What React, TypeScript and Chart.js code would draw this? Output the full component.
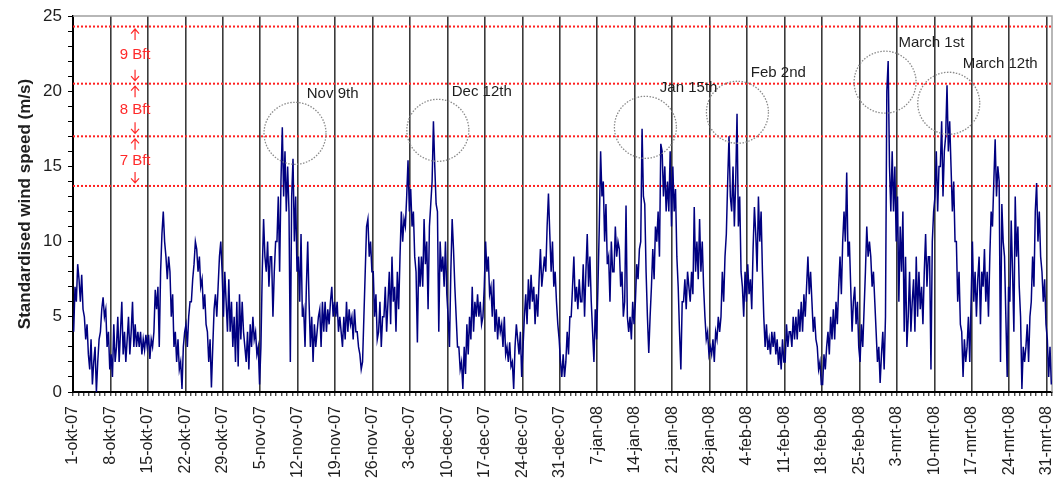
import React, { useEffect, useRef } from 'react';
import { Chart, registerables } from 'chart.js';

Chart.register(...registerables);

// Week tick labels (one every 7 days, starting 1-okt-07)
const tickLabels = [
  '1-okt-07', '8-okt-07', '15-okt-07', '22-okt-07', '29-okt-07',
  '5-nov-07', '12-nov-07', '19-nov-07', '26-nov-07',
  '3-dec-07', '10-dec-07', '17-dec-07', '24-dec-07', '31-dec-07',
  '7-jan-08', '14-jan-08', '21-jan-08', '28-jan-08',
  '4-feb-08', '11-feb-08', '18-feb-08', '25-feb-08',
  '3-mrt-08', '10-mrt-08', '17-mrt-08', '24-mrt-08', '31-mrt-08',
];

// Standardised wind speed (m/s), four readings per day (every 6 hours)
const okt = [
  4, 7, 6, 8.5, 7.5, 6, 7.8, 5.5, 5, 3.5, 4.5, 2.5, 1.5, 3.5, 0.5, 2,
  3, 0, 2, 3.5, 4, 5.5, 6.3, 5, 5.5, 3, 4, 1.5, 2.5, 1, 4.5, 2,
  3, 5, 2, 4, 6, 2.5, 4, 2, 3.5, 5, 2.5, 4, 6, 3, 4.5, 3,
  4, 3, 4, 2.5, 3.5, 2.8, 3.8, 3, 3.8, 2.2, 3.5, 3, 4, 6.8, 5.5, 7,
  3, 8, 10.5, 12, 10, 9, 7.5, 9, 8, 5, 6.5, 3, 4, 2, 3.5, 1.5,
  2, 0.2, 3, 4, 4.5, 3, 5, 6, 6, 7.5, 8.5, 10, 9.5, 8, 9, 7,
  7.5, 5.5, 6.5, 4.5, 4, 2, 3.5, 0.3, 3, 5.5, 6.5, 5, 7, 9, 10, 8,
  5, 8, 6, 4, 7.5, 4, 6, 3, 5, 2, 6, 1.7,
];
const nov = [
  6.5, 3.5, 6, 4, 3, 2, 4, 1.5, 4.5, 3, 5, 3.5, 4, 2.5, 3, 0.5,
  3, 8, 11.5, 9, 8, 10, 7, 9, 9, 5, 8, 10, 10, 13, 8, 14,
  17.6, 13, 16, 12, 15, 12, 2, 13, 15.5, 10, 13, 8, 9, 6, 10.5, 5,
  5.5, 3, 7, 10, 6, 3, 5, 2, 4.5, 3, 4, 5, 5.5, 3, 6, 4,
  6, 4, 5.5, 4.5, 6, 7, 5, 6, 5, 6, 4, 5, 4, 3, 5, 3.5,
  6, 4, 5.5, 4.5, 5, 3.5, 5.5, 4, 4, 3, 2.5, 1.5, 2, 5, 8, 11,
  11.5, 9, 10, 8, 8, 5, 6.5, 3.5, 4, 6, 3, 5, 5, 7, 4, 6,
  8, 4.5, 9, 6, 7, 4, 8, 5.5,
];
const dec = [
  9, 12, 10, 11.5, 11, 13, 15.4, 12, 13.5, 11, 12, 9, 8, 3.3, 9, 7,
  9, 7, 11.5, 8.5, 10, 5.5, 11, 12.5, 14, 18, 15, 12.5, 12, 4, 10, 8,
  9, 7, 10, 6.5, 5, 3, 8, 11.5, 9.5, 7, 5, 3, 3, 1.5, 2, 0.2,
  3, 1.2, 4.5, 2.5, 5, 3.5, 7, 4, 6, 5, 6.5, 5, 6, 4.5, 5, 7,
  10, 8, 9, 6.5, 7, 5, 7.5, 4, 5.5, 3.5, 5, 4, 4.5, 3, 5, 2.5,
  3, 2, 3.3, 1.7, 2, 0.2, 3, 4.5, 3.5, 2.5, 4, 1, 3, 5, 6.5, 4.5,
  7.5, 5.5, 7.8, 6, 7, 4.5, 6.5, 5, 7.5, 9.5, 7, 8, 9, 8, 11, 13.2,
  10.5, 8, 10, 7, 8, 6, 4.5, 3.5, 2, 1, 2.5, 1,
];
const jan = [
  2, 4, 2.5, 5, 5, 7, 9, 6, 7, 5.5, 7.5, 6, 6, 8.5, 5, 8,
  10.5, 7, 9, 6, 4, 2, 5.5, 3.5, 7, 11, 16, 13, 14, 10, 12.5, 8.5,
  9, 6, 10, 8, 8, 11, 9, 10, 9.5, 7, 8, 5, 6, 12.4, 5, 4,
  5, 3.5, 6, 4.5, 6, 8.5, 7.5, 9.5, 10, 17.5, 13, 12.5, 8, 5, 2.6, 5,
  7, 9.5, 7.5, 11, 10, 12, 9, 16.5, 16, 13, 15, 12, 14, 12, 16, 11,
  15, 12, 13.5, 9, 7, 4, 1.5, 6, 6, 7.5, 5.5, 8, 7, 6, 8, 6.5,
  12.3, 8, 10, 7.5, 11.5, 8, 10, 7, 5, 3.5, 4, 2.5, 3, 2.5, 3.5, 2,
  4, 3.5, 5, 4, 5, 8, 6, 9, 10.5, 14, 17, 13,
];
const feb = [
  12, 15, 11, 14, 18.5, 11, 13, 8, 7, 5, 8, 6, 8.5, 6.5, 7.5, 5.5,
  9.5, 12.3, 10.5, 8, 13, 10, 12, 8, 5, 3, 4.5, 2.8, 3.5, 2.5, 4, 3,
  4, 2.5, 3.5, 1.8, 3, 1.5, 3.5, 2, 2, 4.5, 3, 4, 4, 3, 5, 3.5,
  5, 3.5, 5.5, 4, 6, 4, 6.5, 5, 7, 9, 6.5, 8, 6, 4, 5, 3.5,
  3, 1.5, 2, 0.5, 0.5, 2.5, 1.5, 3, 4, 2.5, 5, 3.5, 5.5, 3.5, 6, 4.5,
  7, 9, 6.5, 10, 12, 10, 14.6, 9, 10, 7, 4, 6, 7, 4.5, 6, 3,
  2, 4.5, 3, 5.5, 8, 11, 9, 10, 9, 7, 8, 6, 4, 2, 3, 0.6,
  2.5, 4, 1.5, 5,
];
const mrt = [
  20, 22, 15, 12, 16, 12, 15, 10, 13, 6, 11, 8, 12, 4, 9, 3,
  5, 8, 4, 6, 7.5, 4, 9, 5, 8, 5.5, 7, 4.5, 8, 10.5, 7, 9,
  9, 1.5, 10, 12, 13, 16, 12, 15, 15, 18, 13, 16, 17, 20.4, 16, 18,
  15, 12, 14, 10, 10, 6, 8, 4.5, 4, 1, 3.5, 2, 3, 5, 2, 6,
  10, 6, 8, 5, 7.5, 9, 4.5, 8, 7, 9.5, 6, 8, 5, 9, 12, 11,
  14, 16.8, 13, 15, 14, 2, 12.5, 10, 9, 5, 1, 7, 6, 11.4, 8, 4,
  13, 9, 11, 7, 5, 0.2, 3, 2, 3, 4.5, 2, 5, 6, 9, 7, 12,
  13.9, 10, 12, 9, 8, 6, 7.5, 4.5, 3.5, 1, 3, 0.5,
];

// Beaufort boundaries (m/s) drawn as red dotted lines, and band names
const bftLevels = [13.7, 17.0, 20.5, 24.3];
const bftNames = ['7 Bft', '8 Bft', '9 Bft'];

// Annotated storms: label, circle centre (day, m/s), label anchor (day, m/s)
const stormLabels = ['Nov 9th', 'Dec 12th', 'Jan 15th', 'Feb 2nd', 'March 1st', 'March 12th'];
const stormCircleDay = [41.5, 68.2, 107.0, 124.2, 151.8, 163.7];
const stormCircleVal = [17.2, 17.4, 17.6, 18.6, 20.6, 19.2];
const stormTextDay = [43.7, 70.8, 109.7, 126.7, 154.3, 166.3];
const stormTextVal = [19.8, 19.95, 20.2, 21.2, 23.2, 21.8];

const SAMPLES_PER_DAY = 4;
const TOTAL_DAYS = 183;
const FONT = '"Liberation Sans", Arial, sans-serif';

const series = [...okt, ...nov, ...dec, ...jan, ...feb, ...mrt];

const decorPlugin = {
  id: 'decor',
  beforeDatasetsDraw(chart: any) {
    const { ctx, chartArea } = chart;
    ctx.save();
    ctx.strokeStyle = '#a0a0a0';
    ctx.lineWidth = 1.5;
    ctx.beginPath();
    ctx.moveTo(chartArea.left, chartArea.top);
    ctx.lineTo(chartArea.right, chartArea.top);
    ctx.lineTo(chartArea.right, chartArea.bottom);
    ctx.stroke();
    ctx.restore();
  },
  afterDatasetsDraw(chart: any) {
    const { ctx } = chart;
    const xs = chart.scales.x;
    const ys = chart.scales.y;
    ctx.save();
    // circles
    ctx.strokeStyle = '#8a8a8a';
    ctx.lineWidth = 1.3;
    ctx.setLineDash([1.5, 1.5]);
    for (let i = 0; i < stormLabels.length; i++) {
      ctx.beginPath();
      ctx.arc(xs.getPixelForValue(stormCircleDay[i]), ys.getPixelForValue(stormCircleVal[i]), 31, 0, Math.PI * 2);
      ctx.stroke();
    }
    ctx.setLineDash([]);
    ctx.fillStyle = '#1e1e1e';
    ctx.font = '15px ' + FONT;
    ctx.textAlign = 'left';
    ctx.textBaseline = 'middle';
    for (let i = 0; i < stormLabels.length; i++) {
      ctx.fillText(stormLabels[i], xs.getPixelForValue(stormTextDay[i]), ys.getPixelForValue(stormTextVal[i]));
    }
    // Beaufort bands
    const bx = xs.getPixelForValue(11.6);
    ctx.fillStyle = '#ff2a2a';
    ctx.strokeStyle = '#ff2a2a';
    ctx.lineWidth = 1.2;
    ctx.font = '15px ' + FONT;
    ctx.textAlign = 'center';
    for (let i = 0; i < bftNames.length; i++) {
      const ylo = ys.getPixelForValue(bftLevels[i]);
      const yhi = ys.getPixelForValue(bftLevels[i + 1]);
      ctx.fillText(bftNames[i], bx, (ylo + yhi) / 2);
      // up arrow
      const t1 = yhi + 2.5;
      ctx.beginPath();
      ctx.moveTo(bx, t1 + 11);
      ctx.lineTo(bx, t1);
      ctx.moveTo(bx - 4, t1 + 4.5);
      ctx.lineTo(bx, t1);
      ctx.lineTo(bx + 4, t1 + 4.5);
      ctx.stroke();
      // down arrow
      const t2 = ylo - 3;
      ctx.beginPath();
      ctx.moveTo(bx, t2 - 11);
      ctx.lineTo(bx, t2);
      ctx.moveTo(bx - 4, t2 - 4.5);
      ctx.lineTo(bx, t2);
      ctx.lineTo(bx + 4, t2 - 4.5);
      ctx.stroke();
    }
    ctx.restore();
  },
};

export default function App() {
  const ref = useRef<HTMLCanvasElement>(null);

  useEffect(() => {
    const canvas = ref.current;
    if (!canvas) return;
    Chart.defaults.font.family = FONT;

    const points = series.map((v, i) => ({ x: (i + 0.5) / SAMPLES_PER_DAY, y: v }));
    const bftSets = bftLevels.map((lvl) => ({
      type: 'line' as const,
      data: [{ x: 0, y: lvl }, { x: TOTAL_DAYS, y: lvl }],
      borderColor: '#ff2020',
      borderWidth: 2,
      borderDash: [2, 2],
      pointRadius: 0,
      fill: false,
    }));

    const chart = new Chart(canvas, {
      type: 'line',
      data: {
        datasets: [
          {
            data: points,
            borderColor: '#000080',
            borderWidth: 1.5,
            pointRadius: 0,
            tension: 0,
            fill: false,
          },
          ...bftSets,
        ],
      },
      options: {
        responsive: false,
        animation: false,
        devicePixelRatio: 1,
        layout: { padding: { left: 11, top: 16, right: 8, bottom: 0 } },
        plugins: { legend: { display: false }, tooltip: { enabled: false } },
        scales: {
          x: {
            type: 'linear',
            min: 0,
            max: TOTAL_DAYS,
            afterBuildTicks: (scale: any) => {
              const t = [];
              for (let d = 0; d <= TOTAL_DAYS; d++) t.push({ value: d });
              scale.ticks = t;
            },
            afterFit: (scale: any) => {
              scale.height = 91;
              scale.paddingLeft = 0;
              scale.paddingRight = 0;
            },
            ticks: {
              autoSkip: false,
              minRotation: 90,
              maxRotation: 90,
              padding: 10,
              color: '#1e1e1e',
              font: { size: 16, family: FONT },
              callback: (v: any) => (Number(v) % 7 === 0 && tickLabels[Number(v) / 7]) ? tickLabels[Number(v) / 7] : '',
            },
            grid: {
              color: (c: any) => (c.tick && c.tick.value % 7 === 0 && c.tick.value !== 0 ? '#3a3a3a' : 'rgba(0,0,0,0)'),
              lineWidth: 1.6,
              tickColor: '#000',
              tickWidth: 1,
              tickLength: 4,
            },
            border: { color: '#000', width: 2 },
          },
          y: {
            min: 0,
            max: 25,
            afterBuildTicks: (scale: any) => {
              const t = [];
              for (let v = 0; v <= 25; v++) t.push({ value: v });
              scale.ticks = t;
            },
            afterFit: (scale: any) => {
              scale.width = 62;
              scale.paddingTop = 0;
              scale.paddingBottom = 0;
            },
            ticks: {
              autoSkip: false,
              padding: 6,
              color: '#1e1e1e',
              font: { size: 17, family: FONT },
              callback: (v: any) => (Number(v) % 5 === 0 ? String(v) : ''),
            },
            grid: {
              drawOnChartArea: false,
              tickColor: '#000',
              tickLength: 5,
              tickWidth: 1,
            },
            border: { color: '#000', width: 2 },
            title: {
              display: true,
              text: 'Standardised wind speed (m/s)',
              color: '#1e1e1e',
              font: { size: 17, weight: 'bold', family: FONT },
            },
          },
        },
      },
      plugins: [decorPlugin],
    } as any);

    return () => chart.destroy();
  }, []);

  return (
    <div style={{ position: 'fixed', left: 0, top: 0, width: 1060, height: 483, background: '#fff' }}>
      <canvas ref={ref} width={1060} height={483} style={{ display: 'block', width: 1060, height: 483 }} />
    </div>
  );
}
